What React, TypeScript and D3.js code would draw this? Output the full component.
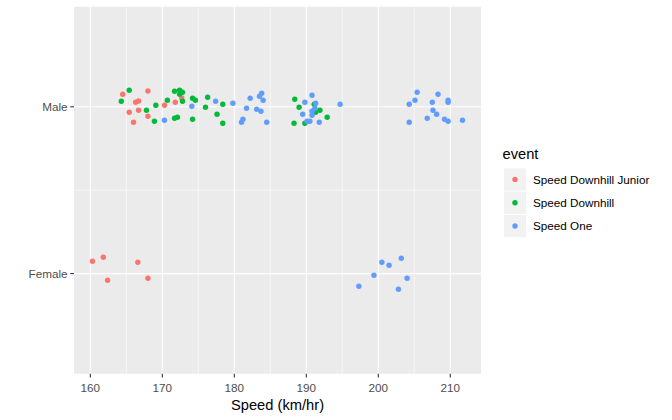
import * as React from 'react';
import * as d3 from 'd3';

// event levels and colours (ggplot default hue palette)
const events = ['Speed Downhill Junior', 'Speed Downhill', 'Speed One'];
const eventColors = ['#F8766D', '#00BA38', '#619CFF'];
const genders = ['Female', 'Male'];
const xTicks = [160, 170, 180, 190, 200, 210];

// [speed, jitter] per event and gender
const juniorMale: [number, number][] = [
  [164.5, 0.075], [168.0, 0.095], [166.3, 0.027], [166.7, 0.035], [165.4, -0.033],
  [166.7, -0.021], [168.0, -0.057], [166.0, -0.093], [170.3, 0.009], [171.8, 0.027],
  [172.7, 0.053],
];
const juniorFemale: [number, number][] = [
  [160.3, 0.074], [161.8, 0.098], [162.4, -0.04], [166.6, 0.068], [168.0, -0.028],
];
const downhillMale: [number, number][] = [
  [165.4, 0.099], [164.3, 0.033], [167.8, -0.021], [169.1, 0.009], [168.9, -0.087],
  [170.7, 0.039], [171.7, 0.093], [172.4, 0.099], [172.8, 0.087], [172.4, 0.075],
  [172.8, 0.033], [171.7, -0.069], [172.1, -0.063], [174.2, 0.051], [174.6, 0.039],
  [176.3, 0.057], [176.0, -0.003], [174.2, -0.075], [177.6, -0.045], [178.4, 0.015],
  [178.4, -0.099], [188.4, 0.045], [189.0, -0.003], [188.3, -0.099], [189.8, -0.099],
  [191.1, 0.015], [191.9, -0.021], [191.3, -0.033], [192.9, -0.063],
];
const oneMale: [number, number][] = [
  [170.3, -0.081], [174.1, 0.003], [177.4, 0.033], [179.8, 0.021], [182.2, 0.051],
  [181.7, -0.009], [183.8, 0.081], [183.5, 0.063], [184.0, 0.039], [183.1, -0.015],
  [183.7, -0.027], [181.2, -0.075], [181.0, -0.093], [184.5, -0.093], [190.8, 0.069],
  [189.8, 0.027], [191.3, 0.021], [191.2, -0.009], [190.8, -0.027], [189.5, -0.045],
  [190.8, -0.051], [190.1, -0.087], [190.5, -0.087], [191.8, -0.093], [194.7, 0.015],
  [205.4, 0.087], [205.1, 0.039], [204.3, 0.015], [204.3, -0.093], [208.3, 0.075],
  [207.5, 0.027], [209.7, 0.039], [209.7, 0.027], [207.6, -0.021], [208.1, -0.045],
  [206.8, -0.069], [209.2, -0.075], [209.7, -0.087], [211.7, -0.081],
];
const oneFemale: [number, number][] = [
  [200.5, 0.068], [201.5, 0.05], [203.2, 0.092], [199.4, -0.01], [204.0, -0.028],
  [197.3, -0.076], [202.8, -0.094],
];

type Pt = { speed: number; jit: number; gender: string; event: string };

const toPts = (arr: [number, number][], gender: string, event: string): Pt[] =>
  arr.map(([speed, jit]) => ({ speed, jit, gender, event }));

const points: Pt[] = [
  ...toPts(juniorMale, 'Male', events[0]),
  ...toPts(juniorFemale, 'Female', events[0]),
  ...toPts(downhillMale, 'Male', events[1]),
  ...toPts(oneMale, 'Male', events[2]),
  ...toPts(oneFemale, 'Female', events[2]),
];

const W = 672;
const H = 420;
const panel = { left: 74, right: 481, top: 6.7, bottom: 373.7 };
const FONT = '"Liberation Sans", Arial, sans-serif';

export default function App() {
  const [lo, hi] = d3.extent(points, (d) => d.speed) as [number, number];
  const pad = (hi - lo) * 0.05;
  const x = d3.scaleLinear().domain([lo - pad, hi + pad]).range([panel.left, panel.right]);
  // discrete y: levels at 1..2, expanded by 0.6 on both sides
  const y = d3.scaleLinear().domain([0.4, 2.6]).range([panel.bottom, panel.top]);
  const yPos = (g: string) => genders.indexOf(g) + 1;
  const color = d3.scaleOrdinal<string, string>().domain(events).range(eventColors);

  const minor = d3.range(165, 215, 10).filter((v) => x(v) < panel.right);
  const minorY = [1.5];

  return (
    <svg
      width={W}
      height={H}
      style={{ position: 'absolute', left: 0, top: 0, background: '#fff' }}
      fontFamily={FONT}
    >
      <rect
        x={panel.left}
        y={panel.top}
        width={panel.right - panel.left}
        height={panel.bottom - panel.top}
        fill="#EBEBEB"
      />
      {minor.map((v) => (
        <line key={'mx' + v} x1={x(v)} x2={x(v)} y1={panel.top} y2={panel.bottom} stroke="#fff" strokeWidth={0.55} />
      ))}
      {minorY.map((v) => (
        <line key={'my' + v} x1={panel.left} x2={panel.right} y1={y(v)} y2={y(v)} stroke="#fff" strokeWidth={0.55} />
      ))}
      {xTicks.map((v) => (
        <line key={'gx' + v} x1={x(v)} x2={x(v)} y1={panel.top} y2={panel.bottom} stroke="#fff" strokeWidth={1.1} />
      ))}
      {genders.map((g) => (
        <line key={'gy' + g} x1={panel.left} x2={panel.right} y1={y(yPos(g))} y2={y(yPos(g))} stroke="#fff" strokeWidth={1.1} />
      ))}

      {points.map((d, i) => (
        <circle
          key={i}
          cx={x(d.speed)}
          cy={y(yPos(d.gender) + d.jit)}
          r={2.7}
          fill={color(d.event)}
        />
      ))}

      {/* x axis */}
      {xTicks.map((v) => (
        <g key={'tx' + v}>
          <line x1={x(v)} x2={x(v)} y1={panel.bottom} y2={panel.bottom + 3.7} stroke="#333" strokeWidth={1.1} />
          <text x={x(v)} y={panel.bottom + 18} textAnchor="middle" fontSize={11.7} fill="#4D4D4D">
            {v}
          </text>
        </g>
      ))}
      <text x={(panel.left + panel.right) / 2} y={410} textAnchor="middle" fontSize={14.7} fill="#000">
        Speed (km/hr)
      </text>

      {/* y axis */}
      {genders.map((g) => (
        <g key={'ty' + g}>
          <line x1={panel.left - 3.7} x2={panel.left} y1={y(yPos(g))} y2={y(yPos(g))} stroke="#333" strokeWidth={1.1} />
          <text x={panel.left - 6.5} y={y(yPos(g)) + 4} textAnchor="end" fontSize={11.7} fill="#4D4D4D">
            {g}
          </text>
        </g>
      ))}

      {/* legend */}
      <text x={502.5} y={158.5} fontSize={14.7} fill="#000">
        event
      </text>
      {events.map((e, i) => {
        const top = 168.3 + i * 23.3;
        return (
          <g key={e}>
            <rect x={504} y={top} width={22} height={22.3} fill="#F2F2F2" />
            <circle cx={515} cy={top + 11.1} r={2.7} fill={eventColors[i]} />
            <text x={533} y={top + 15.2} fontSize={11.7} fill="#000">
              {e}
            </text>
          </g>
        );
      })}
    </svg>
  );
}
